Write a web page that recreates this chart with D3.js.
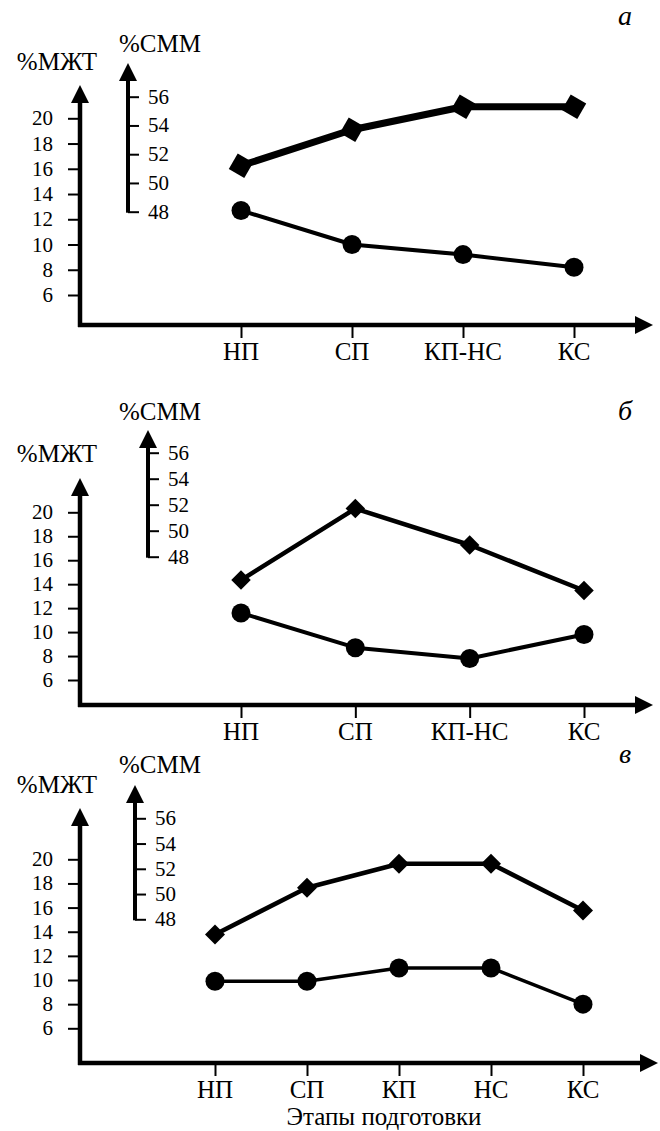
<!DOCTYPE html>
<html lang="ru">
<head>
<meta charset="utf-8">
<script src="https://cdn.jsdelivr.net/npm/d3@7"></script>
</head>
<body style="margin:0; font-family:'Liberation Serif', 'Times New Roman', serif">
<svg id="chart" width="660" height="1131"></svg>
<script>

// data
const stagesA = ["НП", "СП", "КП-НС", "КС"];
const mjtA = [12.7, 10.0, 9.2, 8.2];
const smmA = [51.2, 53.7, 55.3, 55.3];

const stagesB = ["НП", "СП", "КП-НС", "КС"];
const mjtB = [11.6, 8.7, 7.8, 9.8];
const smmB = [46.2, 51.7, 48.9, 45.4];

const stagesC = ["НП", "СП", "КП", "НС", "КС"];
const mjtC = [9.9, 9.9, 11.0, 11.0, 8.0];
const smmC = [46.8, 50.5, 52.4, 52.4, 48.7];

const mjtTicks = [6, 8, 10, 12, 14, 16, 18, 20];
const smmTicks = [48, 50, 52, 54, 56];

const mjtTitle = "%МЖТ";
const smmTitle = "%СММ";
const xTitle = "Этапы подготовки";

// layout of each panel
const panels = [
    { letter: "а", stages: stagesA, mjt: mjtA, smm: smmA,
      axisY: 325, leftTip: 85, y6: 295, y20: 118.3,
      smmX: 128, smmTip: 63, s48: 211.7, s56: 96.7,
      xRange: [241, 574], xTip: 653,
      mjtTitleY: 70, smmTitleY: 52, letterY: 25,
      smmWidth: 7, mjtWidth: 4, sqSize: 320, sqRot: 30 },
    { letter: "б", stages: stagesB, mjt: mjtB, smm: smmB,
      axisY: 705, leftTip: 478, y6: 680, y20: 512.3,
      smmX: 148, smmTip: 430, s48: 556.7, s56: 452.7,
      xRange: [241, 584], xTip: 653,
      mjtTitleY: 462, smmTitleY: 420, letterY: 420,
      smmWidth: 4.5, mjtWidth: 4, sqSize: 190, sqRot: 45 },
    { letter: "в", stages: stagesC, mjt: mjtC, smm: smmC,
      axisY: 1063, leftTip: 808, y6: 1028.3, y20: 859.3,
      smmX: 135, smmTip: 785, s48: 919.3, s56: 818.3,
      xRange: [215, 583], xTip: 658,
      mjtTitleY: 793, smmTitleY: 773, letterY: 763,
      smmWidth: 4.5, mjtWidth: 3.5, sqSize: 200, sqRot: 45 }
];

const svg = d3.select("#chart");
const leftX = 80;
const arrowLen = 18, arrowHalf = 9;

// every text goes straight onto the svg with its own font
function label(x, y, str, size, anchor, italic) {
    return svg.append("text")
        .attr("x", x).attr("y", y)
        .attr("font-family", "Liberation Serif")
        .attr("font-size", size)
        .attr("text-anchor", anchor || "middle")
        .attr("fill", "#000")
        .style("font", `${italic ? "italic " : ""}${size}px 'Liberation Serif', 'Times New Roman', serif`)
        .text(str);
}

function upArrow(g, x, tip) {
    g.append("path")
        .attr("d", `M${x},${tip} L${x - arrowHalf},${tip + arrowLen} L${x + arrowHalf},${tip + arrowLen} Z`)
        .attr("fill", "#000");
}

function tickLines(ax) {
    ax.attr("font-family", null).attr("font-size", null);
    ax.select(".domain").remove();
    ax.selectAll(".tick text").remove();
    ax.selectAll(".tick line").attr("stroke", "#000").attr("stroke-width", 2);
}

function drawPanel(p) {
    let g = svg.append("g");

    let yM = d3.scaleLinear().domain([6, 20]).range([p.y6, p.y20]);
    let yS = d3.scaleLinear().domain([48, 56]).range([p.s48, p.s56]);
    let x = d3.scalePoint().domain(p.stages).range(p.xRange);

    // %МЖТ axis
    let axM = g.append("g")
        .attr("transform", `translate(${leftX},0)`)
        .call(d3.axisLeft(yM).tickValues(mjtTicks).tickSize(12).tickSizeOuter(0));
    tickLines(axM);
    mjtTicks.forEach(t => label(leftX - 27, yM(t) + 7, String(t), 21, "end"));
    g.append("line")
        .attr("x1", leftX).attr("x2", leftX)
        .attr("y1", p.axisY + 2).attr("y2", p.leftTip + arrowLen - 1)
        .attr("stroke", "#000").attr("stroke-width", 4.5);
    upArrow(g, leftX, p.leftTip);

    // %СММ axis
    let axS = g.append("g")
        .attr("transform", `translate(${p.smmX},0)`)
        .call(d3.axisRight(yS).tickValues(smmTicks).tickSize(11).tickSizeOuter(0));
    tickLines(axS);
    smmTicks.forEach(t => label(p.smmX + 20, yS(t) + 7, String(t), 21, "start"));
    g.append("line")
        .attr("x1", p.smmX).attr("x2", p.smmX)
        .attr("y1", yS(48) + 1).attr("y2", p.smmTip + arrowLen - 1)
        .attr("stroke", "#000").attr("stroke-width", 4);
    upArrow(g, p.smmX, p.smmTip);

    // stage axis
    let axX = g.append("g")
        .attr("transform", `translate(0,${p.axisY})`)
        .call(d3.axisBottom(x).tickSize(13).tickSizeOuter(0));
    tickLines(axX);
    p.stages.forEach(s => label(x(s), p.axisY + 35, s, 25));
    g.append("line")
        .attr("x1", leftX - 2).attr("x2", p.xTip - arrowLen + 1)
        .attr("y1", p.axisY).attr("y2", p.axisY)
        .attr("stroke", "#000").attr("stroke-width", 4.5);
    g.append("path")
        .attr("d", `M${p.xTip},${p.axisY} L${p.xTip - arrowLen},${p.axisY - arrowHalf} L${p.xTip - arrowLen},${p.axisY + arrowHalf} Z`)
        .attr("fill", "#000");

    // titles
    label(57, p.mjtTitleY, mjtTitle, 25);
    label(160, p.smmTitleY, smmTitle, 25);
    label(625, p.letterY, p.letter, 28, "middle", true);

    // %СММ series: diamonds
    let lineS = d3.line().x((d, i) => x(p.stages[i])).y(d => yS(d));
    g.append("path").datum(p.smm)
        .attr("d", lineS)
        .attr("fill", "none").attr("stroke", "#000")
        .attr("stroke-width", p.smmWidth).attr("stroke-linejoin", "round");
    g.selectAll(".sq").data(p.smm).enter().append("path")
        .attr("class", "sq")
        .attr("d", d3.symbol(d3.symbolSquare, p.sqSize))
        .attr("transform", (d, i) => `translate(${x(p.stages[i])},${yS(d)}) rotate(${p.sqRot})`)
        .attr("fill", "#000");

    // %МЖТ series: circles
    let lineM = d3.line().x((d, i) => x(p.stages[i])).y(d => yM(d));
    g.append("path").datum(p.mjt)
        .attr("d", lineM)
        .attr("fill", "none").attr("stroke", "#000")
        .attr("stroke-width", p.mjtWidth).attr("stroke-linejoin", "round");
    g.selectAll(".dot").data(p.mjt).enter().append("circle")
        .attr("class", "dot")
        .attr("cx", (d, i) => x(p.stages[i]))
        .attr("cy", d => yM(d))
        .attr("r", 9.5)
        .attr("fill", "#000");
}

panels.forEach(drawPanel);

label(384, 1125, xTitle, 25);

</script>
</body>
</html>
